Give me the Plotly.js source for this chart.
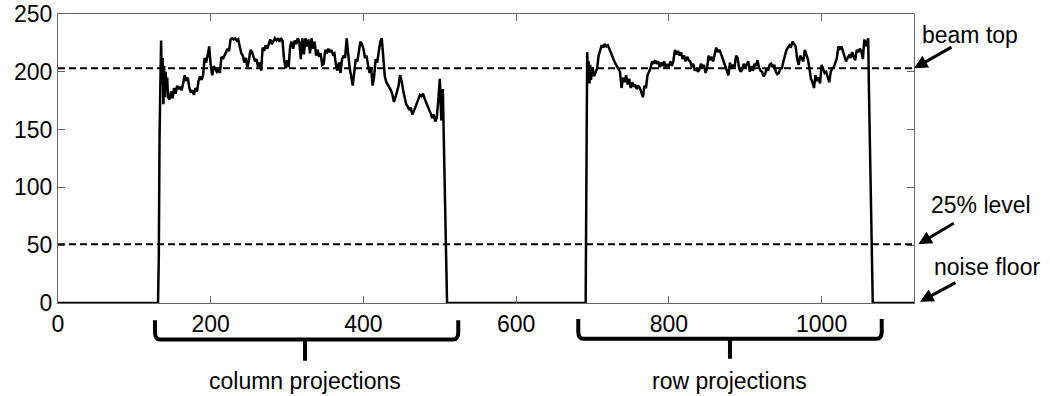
<!DOCTYPE html>
<html>
<head>
<meta charset="utf-8">
<script src="https://cdn.plot.ly/plotly-3.0.1.min.js"></script>
<style>html,body{margin:0;padding:0;background:#fff;}#chart{width:1050px;height:396px;}</style>
</head>
<body>
<div id="chart"></div>
<script>
// Column projection profile (x = pixel index, y = intensity)
const colX = [0,131,132,133,135,136,137,138,139,140,141,142,143,144,146,148,150,152,154,156,158,160,162,164,166,168,170,172,174,176,178,180,182,184,186,188,190,192,194,196,198,200,202,204,206,208,210,212,214,216,218,220,222,224,226,228,230,232,234,236,238,240,242,244,246,248,250,252,254,256,258,260,262,264,266,268,270,272,274,276,278,280,282,284,286,288,290,292,294,296,298,300,302,304,306,308,310,312,314,316,318,320,322,324,326,328,330,332,334,336,338,340,342,344,346,348,350,352,354,356,358,360,362,364,366,368,370,372,374,376,378,380,382,384,386,388,390,392,394,396,398,400,402,404,406,408,410,412,414,416,418,420,422,424,426,428,430,432,434,436,438,440,442,444,446,448,450,452,454,456,458,460,462,464,466,468,470,472,474,476,478,480,482,484,486,488,490,492,494,496,498,500,502,504,505,508,509.5];
const colY = [0,0,40,145,227,190,212,172,205,178,200,185,195,178,176,183,177,186,181,188,185,187,184,190,197,192,195,186,182,184,180,186,183,192,196,193,197,212,208,214,222,206,197,205,203,200,202,199,213,211,214,217,220,218,228,229,228,229,227,228,220,216,214,208,212,204,210,219,217,213,209,211,204,208,201,221,218,223,220,224,228,224,226,229,227,229,226,229,227,211,203,210,204,222,226,220,227,224,229,226,211,229,215,229,222,228,216,229,220,226,214,219,213,216,206,207,219,216,220,217,219,215,216,206,201,208,199,211,214,212,229,212,203,196,188,200,211,209,218,226,224,220,212,214,206,199,204,188,196,211,208,218,226,229,210,196,191,189,186,184,180,174,178,183,188,197,192,184,178,172,170,167,169,163,166,170,174,177,180,179,181,177,174,170,168,164,160,163,157,160,175,194,158,185,150,28,0];
// Row projection profile
const rowX = [691,692,693,694,695,696,697,698,700,702,704,706,708,710,712,714,716,718,720,722,724,726,728,730,732,734,736,738,740,742,744,746,748,750,752,754,756,758,760,762,764,766,768,770,772,774,776,778,780,782,784,786,788,790,792,794,796,798,800,802,804,806,808,810,812,814,816,818,820,822,824,826,828,830,832,834,836,838,840,842,844,846,848,850,852,854,856,858,860,862,864,866,868,870,872,874,876,878,880,882,884,886,888,890,892,894,896,898,900,902,904,906,908,910,912,914,916,918,920,922,924,926,928,930,932,934,936,938,940,942,944,946,948,950,952,954,956,958,960,962,964,966,968,970,972,974,976,978,980,982,984,986,988,990,992,994,996,998,1000,1002,1004,1006,1008,1010,1012,1014,1016,1018,1020,1022,1024,1026,1028,1030,1032,1034,1036,1038,1040,1042,1044,1046,1048,1050,1052,1054,1056,1058,1060,1061,1062,1064,1067,1121];
const rowY = [0,160,217,196,209,190,206,193,204,196,200,203,214,219,223,221,224,222,223,220,216,212,210,207,205,203,200,186,195,191,197,189,194,186,191,187,189,185,188,186,181,178,188,186,197,200,203,209,207,210,207,209,204,208,205,209,203,206,205,209,205,210,219,215,218,214,217,211,214,209,213,210,209,204,207,201,203,200,202,207,203,206,199,203,214,210,213,209,214,221,217,219,216,212,209,203,199,197,208,203,206,204,214,212,203,200,202,207,204,206,209,200,205,201,207,205,210,204,201,200,196,198,203,201,206,207,204,206,200,198,199,203,203,209,214,219,221,223,222,226,224,222,211,206,214,211,209,219,215,211,203,194,191,186,197,192,195,190,206,202,199,200,195,191,200,203,204,209,212,222,220,222,217,213,209,212,214,212,217,213,210,219,217,220,218,211,228,222,229,229,184,100,0,0];
// Reference levels
const beamTop = 203;
const quarterLevel = beamTop * 0.25;
const xTicks = [0, 200, 400, 600, 800, 1000];
const yTicks = [0, 50, 100, 150, 200, 250];
const levelLabels = ["beam top", "25% level", "noise floor"];
const groupLabels = ["column projections", "row projections"];

const FONT = "Liberation Sans, Arial, sans-serif";

const trace = {
  x: colX.concat(rowX),
  y: colY.concat(rowY),
  type: "scatter",
  mode: "lines",
  line: {color: "#000", width: 2.5},
  hoverinfo: "skip",
  showlegend: false
};

// brace geometry in paper coords
function brace(xl, xr, xm, yt, yh, ytip) {
  const rx = 0.006, ry = 0.025;
  return "M " + xl + "," + yt + " L " + xl + "," + (yh + ry) +
    " Q " + xl + "," + yh + " " + (xl + rx) + "," + yh +
    " L " + (xr - rx) + "," + yh +
    " Q " + xr + "," + yh + " " + xr + "," + (yh + ry) +
    " L " + xr + "," + yt +
    " M " + xm + "," + yh + " L " + xm + "," + ytip;
}

const shapes = [
  {type: "line", xref: "paper", yref: "y", x0: 0, x1: 1, y0: beamTop, y1: beamTop,
   line: {color: "#000", width: 2, dash: "7px,4px"}},
  {type: "line", xref: "paper", yref: "y", x0: 0, x1: 1, y0: quarterLevel, y1: quarterLevel,
   line: {color: "#000", width: 2, dash: "7px,4px"}},
  {type: "path", xref: "paper", yref: "paper", path: brace(0.1133, 0.4676, 0.2886, -0.06, -0.126, -0.2),
   line: {color: "#000", width: 4}},
  {type: "path", xref: "paper", yref: "paper", path: brace(0.6078, 0.9623, 0.785, -0.055, -0.124, -0.193),
   line: {color: "#000", width: 4}}
];

const txtFont = {family: FONT, size: 23, color: "#000"};
function label(x, y, text) {
  return {xref: "paper", yref: "paper", x: x, y: y, text: text, showarrow: false,
          font: txtFont, xanchor: "center", yanchor: "middle"};
}
function arrow(x, y, ax, ay) {
  return {xref: "paper", yref: "y", x: x, y: y, text: "", showarrow: true, ax: ax, ay: ay,
          arrowhead: 2, arrowsize: 0.9, arrowwidth: 3, arrowcolor: "#000"};
}
const annotations = [
  label(1.065, 0.927, levelLabels[0]),
  label(1.078, 0.338, levelLabels[1]),
  label(1.085, 0.125, levelLabels[2]),
  arrow(1.0, beamTop, 39, -22),
  arrow(1.005, quarterLevel, 37, -22),
  arrow(1.007, 1, 37, -20),
  label(0.2886, -0.27, groupLabels[0]),
  label(0.785, -0.27, groupLabels[1])
];

const axisCommon = {
  showgrid: false, zeroline: false,
  showline: true, linecolor: "#666", linewidth: 1, mirror: "ticks",
  ticks: "inside", ticklen: 7, tickcolor: "#666", tickwidth: 1,
  tickfont: {family: FONT, size: 23, color: "#000"}
};

const layout = {
  width: 1050, height: 396,
  margin: {l: 58, r: 136, t: 14, b: 93, pad: 0},
  paper_bgcolor: "#fff", plot_bgcolor: "#fff",
  xaxis: Object.assign({}, axisCommon, {range: [0, 1121], tickvals: xTicks, ticktext: xTicks.map(String)}),
  yaxis: Object.assign({}, axisCommon, {range: [0, 250], tickvals: yTicks, ticktext: yTicks.map(String)}),
  shapes: shapes,
  annotations: annotations,
  showlegend: false
};

Plotly.newPlot("chart", [trace], layout, {staticPlot: true, displayModeBar: false});
</script>
</body>
</html>
